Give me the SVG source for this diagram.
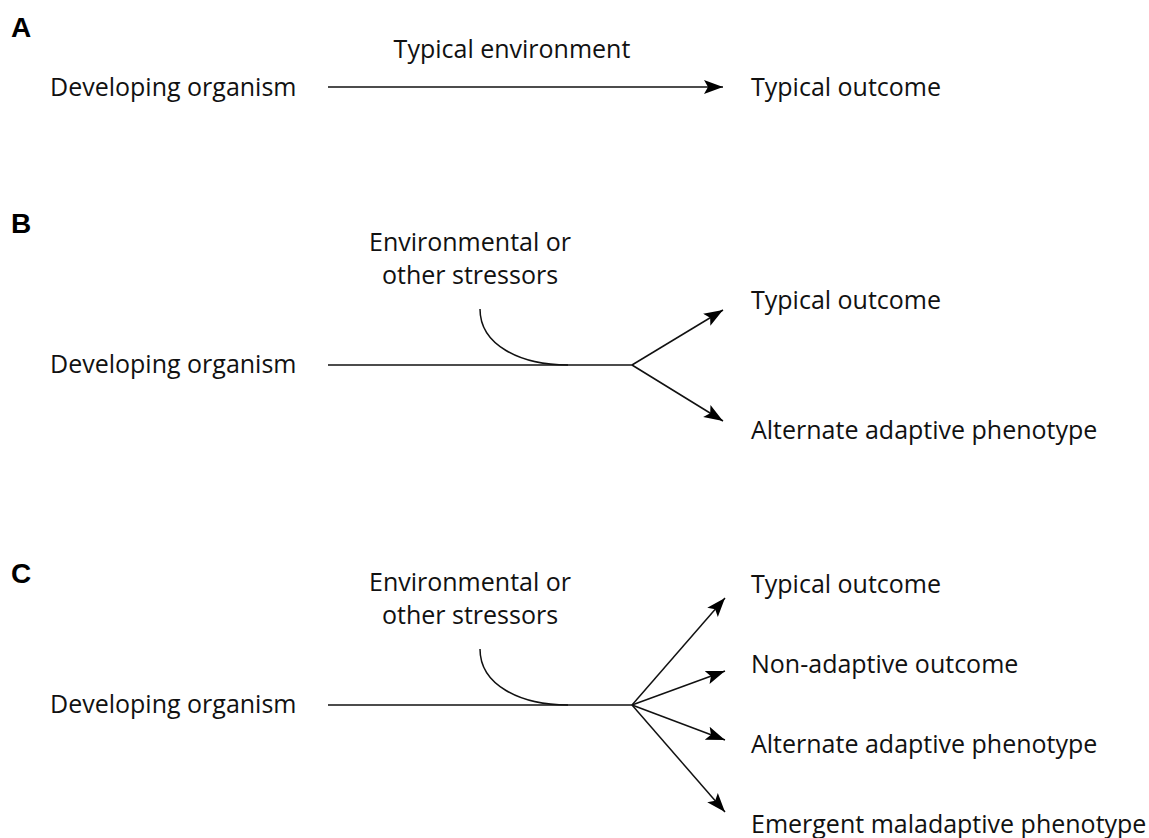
<svg xmlns="http://www.w3.org/2000/svg" width="1149" height="838" viewBox="0 0 1149 838">
<style>
.t{font-family:"Open Sans","Liberation Sans",sans-serif;font-size:25px;fill:#111}
.p{font-family:"Liberation Sans",Arial,sans-serif;font-size:28px;font-weight:bold;fill:#000}
.c{fill:none;stroke:#111;stroke-width:1.5}
.a{marker-end:url(#ah)}
</style>
<defs>
<marker id="ah" markerUnits="userSpaceOnUse" markerWidth="20" markerHeight="16" viewBox="0 0 20 16" refX="19" refY="8" orient="auto">
<path d="M0,1 L19,8 L0,15 L4,8 Z" fill="#000"/>
</marker>
</defs>
<rect width="1149" height="838" fill="#fff"/>
<g id="panel-labels">
<text class="p" x="11" y="37">A</text>
<text class="p" x="11" y="233">B</text>
<text class="p" x="11" y="583">C</text>
</g>
<g id="A-source"><text class="t" x="50" y="96">Developing organism</text></g>
<g id="A-env"><text class="t" x="512" y="58" text-anchor="middle">Typical environment</text></g>
<g id="A-outcome"><text class="t" x="751" y="96">Typical outcome</text></g>
<g id="B-source"><text class="t" x="50" y="373">Developing organism</text></g>
<g id="B-stress"><text class="t" x="470" y="251" text-anchor="middle">Environmental or</text><text class="t" x="470" y="284" text-anchor="middle">other stressors</text></g>
<g id="B-typical"><text class="t" x="751" y="309">Typical outcome</text></g>
<g id="B-alt"><text class="t" x="751" y="439">Alternate adaptive phenotype</text></g>
<g id="C-source"><text class="t" x="50" y="713">Developing organism</text></g>
<g id="C-stress"><text class="t" x="470" y="591" text-anchor="middle">Environmental or</text><text class="t" x="470" y="624" text-anchor="middle">other stressors</text></g>
<g id="C-typical"><text class="t" x="751" y="593">Typical outcome</text></g>
<g id="C-nonadaptive"><text class="t" x="751" y="673">Non-adaptive outcome</text></g>
<g id="C-alt"><text class="t" x="751" y="753">Alternate adaptive phenotype</text></g>
<g id="C-emergent"><text class="t" x="751" y="833">Emergent maladaptive phenotype</text></g>
<g id="connectors">
<line class="c a" x1="328" y1="87" x2="723" y2="87"/>
<line class="c" x1="328" y1="365" x2="632" y2="365"/>
<path class="c" d="M480,309 C480,345 520,365 568,365"/>
<line class="c a" x1="632" y1="365" x2="723" y2="310"/>
<line class="c a" x1="632" y1="365" x2="723" y2="421"/>
<line class="c" x1="328" y1="705" x2="632" y2="705"/>
<path class="c" d="M480,649 C480,685 520,705 568,705"/>
<line class="c a" x1="632" y1="705" x2="725" y2="598"/>
<line class="c a" x1="632" y1="705" x2="725" y2="671"/>
<line class="c a" x1="632" y1="705" x2="725" y2="740"/>
<line class="c a" x1="632" y1="705" x2="725" y2="812"/>
</g>
</svg>
